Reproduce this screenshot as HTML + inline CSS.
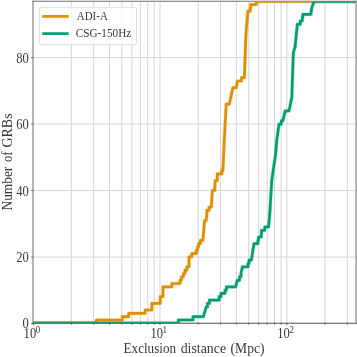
<!DOCTYPE html>
<html><head><meta charset="utf-8"><title>Exclusion distance</title>
<style>html,body{margin:0;padding:0;background:#fff}svg{display:block}</style></head>
<body>
<svg width="357" height="357" viewBox="0 0 357 357" style="display:block">
<rect width="357" height="357" fill="#fff"/>
<defs><clipPath id="ax"><rect x="33.0" y="1.0" width="323.1" height="322.9"/></clipPath></defs>
<path d="M71.37 1.4V323.4M93.70 1.4V323.4M109.54 1.4V323.4M121.83 1.4V323.4M131.87 1.4V323.4M140.36 1.4V323.4M147.71 1.4V323.4M154.20 1.4V323.4M160.00 1.4V323.4M198.17 1.4V323.4M220.50 1.4V323.4M236.34 1.4V323.4M248.63 1.4V323.4M258.67 1.4V323.4M267.16 1.4V323.4M274.51 1.4V323.4M281.00 1.4V323.4M286.80 1.4V323.4M324.97 1.4V323.4M347.30 1.4V323.4M33.0 257.06H356.1M33.0 190.57H356.1M33.0 124.08H356.1M33.0 57.59H356.1" stroke="#d6d6d6" stroke-width="1" fill="none"/>
<g fill="none" stroke-width="1.4" opacity="1"><path d="M33.0 0.7V324.1M356.1 0.7V324.1" stroke="#a8a8a8"/><path d="M32.3 1.4H356.8" stroke="#969696"/><path d="M32.3 323.4H356.8" stroke="#7e7e7e"/></g>
<g clip-path="url(#ax)" fill="none" stroke-width="2.7" stroke-linejoin="round">
<path d="M33.0 323.0H96.4V320H122.3V316.7H128.7V313.3H145.1V310H151.8V303.4H160.2V296.7H163V286.8H171.9V283.5H180.1V280.1H181.5V276.8H183.4V273.5H185V270.2H186.8V266.9H189V256.9H191.8V253.6H196.3V250.3H197.5V246.9H198.6V243.6H200.5V240.3H202.9V240.3L204.6 220.4H206.3V217H206.8V210.4H209V207.1H211.3V207.1L212.4 190.5H214.8V189L215.2 180.6H217.3V173.9H221.8V170.6H222.9V170.6L224.3 140L226.2 104.2H229.3V104.2L232.9 87.6H236.4V87.6L237.4 81H241.5V77.6H244.4V77.6L245.7 40L246.3 30L247.8 11.2H250.3V7.9H250.7V4.6H256.3V1.5H361.1" stroke="#de8f05" stroke-width="3.9" opacity="0.22"/>
<path d="M33.0 323.0H96.4V320H122.3V316.7H128.7V313.3H145.1V310H151.8V303.4H160.2V296.7H163V286.8H171.9V283.5H180.1V280.1H181.5V276.8H183.4V273.5H185V270.2H186.8V266.9H189V256.9H191.8V253.6H196.3V250.3H197.5V246.9H198.6V243.6H200.5V240.3H202.9V240.3L204.6 220.4H206.3V217H206.8V210.4H209V207.1H211.3V207.1L212.4 190.5H214.8V189L215.2 180.6H217.3V173.9H221.8V170.6H222.9V170.6L224.3 140L226.2 104.2H229.3V104.2L232.9 87.6H236.4V87.6L237.4 81H241.5V77.6H244.4V77.6L245.7 40L246.3 30L247.8 11.2H250.3V7.9H250.7V4.6H256.3V1.5H361.1" stroke="#de8f05"/>
<path d="M33.0 323.0H178.4V320H193V316.7H203.4V316.7L206.2 306.9H207.5V303.4H209.4V300.1H219.1V296.7H221V293.4H225V290.1H226.4V286.8H235.6V286.8L237.3 280.3H239.5V276.8H241V273.5L242.4 266.9H248V263.5H249V260.2H251.3V260.2L254 243.6H257.9V240.3H258.5V237H261.3V233.7H261.5V230.3H264.8V227H268.6V227L269.7 215L271.8 180L275.7 153.4L276.8 140L279 124.1H281.3V120.8H282.9V120.8L285.2 110.8H289.1V110.8L291.8 97.5L292.9 65L293.4 52.4L295.1 46.8L297.3 24.3H300.3V21H302.2V17.7H302.8V14.4H310.8V14.4L311.9 7.3L314.1 1.5H361.1" stroke="#029e73" stroke-width="3.9" opacity="0.22"/>
<path d="M33.0 323.0H178.4V320H193V316.7H203.4V316.7L206.2 306.9H207.5V303.4H209.4V300.1H219.1V296.7H221V293.4H225V290.1H226.4V286.8H235.6V286.8L237.3 280.3H239.5V276.8H241V273.5L242.4 266.9H248V263.5H249V260.2H251.3V260.2L254 243.6H257.9V240.3H258.5V237H261.3V233.7H261.5V230.3H264.8V227H268.6V227L269.7 215L271.8 180L275.7 153.4L276.8 140L279 124.1H281.3V120.8H282.9V120.8L285.2 110.8H289.1V110.8L291.8 97.5L292.9 65L293.4 52.4L295.1 46.8L297.3 24.3H300.3V21H302.2V17.7H302.8V14.4H310.8V14.4L311.9 7.3L314.1 1.5H361.1" stroke="#029e73"/>
</g>
<g fill="none" stroke-width="1.4" opacity="0.6"><path d="M33.0 0.7V324.1M356.1 0.7V324.1" stroke="#a8a8a8"/><path d="M32.3 1.4H356.8" stroke="#969696"/><path d="M32.3 323.4H356.8" stroke="#7e7e7e"/></g>
<path d="M33.20 322.79999999999995v2.3M71.37 322.79999999999995v1.9M93.70 322.79999999999995v1.9M109.54 322.79999999999995v1.9M121.83 322.79999999999995v1.9M131.87 322.79999999999995v1.9M140.36 322.79999999999995v1.9M147.71 322.79999999999995v1.9M154.20 322.79999999999995v1.9M160.00 322.79999999999995v2.3M198.17 322.79999999999995v1.9M220.50 322.79999999999995v1.9M236.34 322.79999999999995v1.9M248.63 322.79999999999995v1.9M258.67 322.79999999999995v1.9M267.16 322.79999999999995v1.9M274.51 322.79999999999995v1.9M281.00 322.79999999999995v1.9M286.80 322.79999999999995v2.3M324.97 322.79999999999995v1.9M347.30 322.79999999999995v1.9M33.3 323.55h-2.1M33.3 257.06h-2.1M33.3 190.57h-2.1M33.3 124.08h-2.1M33.3 57.59h-2.1" stroke="#505050" stroke-width="0.9" fill="none"/>
<rect x="39.3" y="7.2" width="97.2" height="37.5" rx="2.5" fill="#fff" fill-opacity="0.8" stroke="#dcdcdc" stroke-width="1"/>
<path d="M42.2 16.4H68.7" stroke="#de8f05" stroke-width="2.7"/>
<path d="M42.2 33.6H68.7" stroke="#029e73" stroke-width="2.7"/>
<g font-family="Liberation Serif, serif" fill="#383838">
<text x="76.8" y="20.2" font-size="12.8" textLength="31.0" lengthAdjust="spacingAndGlyphs">ADI-A</text>
<text x="75.8" y="36.9" font-size="12.8" textLength="55.4" lengthAdjust="spacingAndGlyphs">CSG-150Hz</text>
<text transform="translate(28.8 328) scale(0.885 1)" font-size="14.2" text-anchor="end">0</text>
<text transform="translate(28.8 262) scale(0.885 1)" font-size="14.2" text-anchor="end">20</text>
<text transform="translate(28.8 196) scale(0.885 1)" font-size="14.2" text-anchor="end">40</text>
<text transform="translate(28.8 129) scale(0.885 1)" font-size="14.2" text-anchor="end">60</text>
<text transform="translate(28.8 63) scale(0.885 1)" font-size="14.2" text-anchor="end">80</text>
<text transform="translate(23.60 337.7) scale(0.885 1)" font-size="14.2">10</text>
<text transform="translate(35.80 332.6) scale(0.885 1)" font-size="10">0</text>
<text transform="translate(150.40 337.7) scale(0.885 1)" font-size="14.2">10</text>
<text transform="translate(162.60 332.6) scale(0.885 1)" font-size="10">1</text>
<text transform="translate(277.20 337.7) scale(0.885 1)" font-size="14.2">10</text>
<text transform="translate(289.40 332.6) scale(0.885 1)" font-size="10">2</text>
<text y="352.6" font-size="14"><tspan x="123.6" textLength="52.4" lengthAdjust="spacingAndGlyphs">Exclusion</tspan> <tspan x="180.7" textLength="45.4" lengthAdjust="spacingAndGlyphs">distance</tspan> <tspan x="230.6" textLength="34.0" lengthAdjust="spacingAndGlyphs">(Mpc)</tspan></text>
<text transform="translate(11.5 210.5) rotate(-90)" font-size="14.8"><tspan x="0" textLength="43.8" lengthAdjust="spacingAndGlyphs">Number</tspan> <tspan x="48.5" textLength="10.6" lengthAdjust="spacingAndGlyphs">of</tspan> <tspan x="63.0" textLength="34.1" lengthAdjust="spacingAndGlyphs">GRBs</tspan></text>
</g>
</svg>
</body></html>
